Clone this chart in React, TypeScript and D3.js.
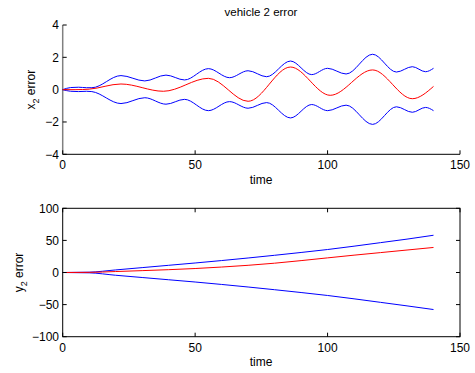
import React from "react";
import * as d3 from "d3";

// ---- Data ----
const topUpperT = [0, 3, 6, 9, 11, 22, 31, 39, 46, 55, 63, 70, 77, 86, 94, 100, 107, 117, 126, 132, 137, 140];
const topUpperV = [0, 0.13, 0.15, 0.12, 0.12, 0.87, 0.54, 0.9, 0.6, 1.3, 0.74, 1.17, 0.8, 1.77, 0.93, 1.32, 0.97, 2.19, 1.09, 1.42, 1.11, 1.32];
const topLowerV = [0, -0.1, -0.12, -0.1, -0.12, -0.86, -0.5, -0.9, -0.6, -1.3, -0.74, -1.15, -0.8, -1.75, -0.92, -1.3, -0.96, -2.15, -1.06, -1.4, -1.1, -1.3];
const topMeanT = [0, 5, 10, 22, 38, 55, 70, 86, 101, 117, 132, 140];
const topMeanV = [0, 0, 0.03, 0.35, -0.1, 0.7, -0.72, 1.4, -0.35, 1.22, -0.56, 0.2];

const botT = [0, 10, 20, 30, 40, 50, 60, 70, 80, 90, 100, 110, 120, 130, 140];
const botUpperV = [0, 0.5, 4, 7.6, 11.2, 14.8, 18.6, 22.6, 26.8, 31.2, 35.8, 41, 46.5, 52, 58];
const botMeanV = [0, 0.2, 1.5, 2.9, 4.4, 6.2, 8.5, 11.2, 14.5, 18.5, 22.8, 27, 31, 35, 39];
const botLowerV = [0, -0.5, -4.3, -7.8, -11.3, -14.8, -18.6, -22.6, -26.8, -31.2, -35.8, -41, -46.5, -52, -57.7];

const xTicks = [0, 50, 100, 150];
const topYTicks = [4, 2, 0, -2, -4];
const botYTicks = [100, 50, 0, -50, -100];

const title = "vehicle 2 error";
const xLabel = "time";

const FONT = "'Liberation Sans', Arial, Helvetica, sans-serif";
const BLUE = "#0000ff";
const RED = "#ff0000";

const L = 62.7;
const R = 460;

function pts(t: number[], v: number[]) {
  return t.map((x, i) => [x, v[i]] as [number, number]);
}

export default function App() {
  const x = d3.scaleLinear().domain([0, 150]).range([L, R]);
  const yTop = d3.scaleLinear().domain([-4, 4]).range([154.3, 25]);
  const yBot = d3.scaleLinear().domain([-100, 100]).range([336.7, 208.3]);

  const lineTop = d3
    .line<[number, number]>()
    .x((d) => x(d[0]))
    .y((d) => yTop(d[1]))
    .curve(d3.curveMonotoneX);
  const lineBot = d3
    .line<[number, number]>()
    .x((d) => x(d[0]))
    .y((d) => yBot(d[1]))
    .curve(d3.curveMonotoneX);

  const tk = 4;

  return (
    <svg
      width={475}
      height={373}
      style={{ position: "fixed", left: 0, top: 0, background: "#fff" }}
      fontFamily={FONT}
    >
      <rect width={475} height={373} fill="#fff" />
      {/* ---------- Top plot ---------- */}
      <text x={261} y={16} fontSize={11.5} textAnchor="middle" fill="#000">
        {title}
      </text>
      <line x1={L} x2={R} y1={yTop(-4)} y2={yTop(-4)} stroke="#000" strokeWidth={1} />
      <line x1={L} x2={L} y1={yTop(4)} y2={yTop(-4)} stroke="#808080" strokeWidth={1.5} />
      {xTicks.map((t) => (
        <g key={"tx" + t}>
          <line x1={x(t)} x2={x(t)} y1={yTop(-4)} y2={yTop(-4) - tk} stroke="#000" />
          <text x={x(t)} y={168.5} fontSize={12} textAnchor="middle">
            {t}
          </text>
        </g>
      ))}
      {topYTicks.map((v) => (
        <g key={"ty" + v}>
          <line x1={L} x2={L + tk} y1={yTop(v)} y2={yTop(v)} stroke="#000" />
          <text x={59} y={yTop(v) + 4.3} fontSize={12} textAnchor="end">
            {v < 0 ? "\u2212" + Math.abs(v) : v}
          </text>
        </g>
      ))}
      <text x={261} y={184} fontSize={12} textAnchor="middle">
        {xLabel}
      </text>
      <text transform={`translate(35,${(yTop(4) + yTop(-4)) / 2}) rotate(-90)`} fontSize={12} textAnchor="middle">
        x<tspan fontSize={9} dy={3.5}>2</tspan>
        <tspan dy={-3.5}> error</tspan>
      </text>
      <path d={lineTop(pts(topUpperT, topUpperV)) || ""} fill="none" stroke={BLUE} strokeWidth={1} />
      <path d={lineTop(pts(topUpperT, topLowerV)) || ""} fill="none" stroke={BLUE} strokeWidth={1} />
      <path d={lineTop(pts(topMeanT, topMeanV)) || ""} fill="none" stroke={RED} strokeWidth={1} />

      {/* ---------- Bottom plot ---------- */}
      <path d={lineBot(pts(botT, botUpperV)) || ""} fill="none" stroke={BLUE} strokeWidth={1} />
      <path d={lineBot(pts(botT, botLowerV)) || ""} fill="none" stroke={BLUE} strokeWidth={1} />
      <path d={lineBot(pts(botT, botMeanV)) || ""} fill="none" stroke={RED} strokeWidth={1} />
      <rect x={L} y={yBot(100)} width={R - L} height={yBot(-100) - yBot(100)} fill="none" stroke="#000" strokeWidth={1} />
      {xTicks.map((t) => (
        <g key={"bx" + t}>
          <line x1={x(t)} x2={x(t)} y1={yBot(-100)} y2={yBot(-100) - tk} stroke="#000" />
          <line x1={x(t)} x2={x(t)} y1={yBot(100)} y2={yBot(100) + tk} stroke="#000" />
          <text x={x(t)} y={351.5} fontSize={12} textAnchor="middle">
            {t}
          </text>
        </g>
      ))}
      {botYTicks.map((v) => (
        <g key={"by" + v}>
          <line x1={L} x2={L + tk} y1={yBot(v)} y2={yBot(v)} stroke="#000" />
          <line x1={R} x2={R - tk} y1={yBot(v)} y2={yBot(v)} stroke="#000" />
          <text x={59} y={yBot(v) + 4.3} fontSize={12} textAnchor="end">
            {v < 0 ? "\u2212" + Math.abs(v) : v}
          </text>
        </g>
      ))}
      <text x={261} y={366} fontSize={12} textAnchor="middle">
        {xLabel}
      </text>
      <text transform={`translate(23,${(yBot(100) + yBot(-100)) / 2}) rotate(-90)`} fontSize={12} textAnchor="middle">
        y<tspan fontSize={9} dy={3.5}>2</tspan>
        <tspan dy={-3.5}> error</tspan>
      </text>
    </svg>
  );
}
